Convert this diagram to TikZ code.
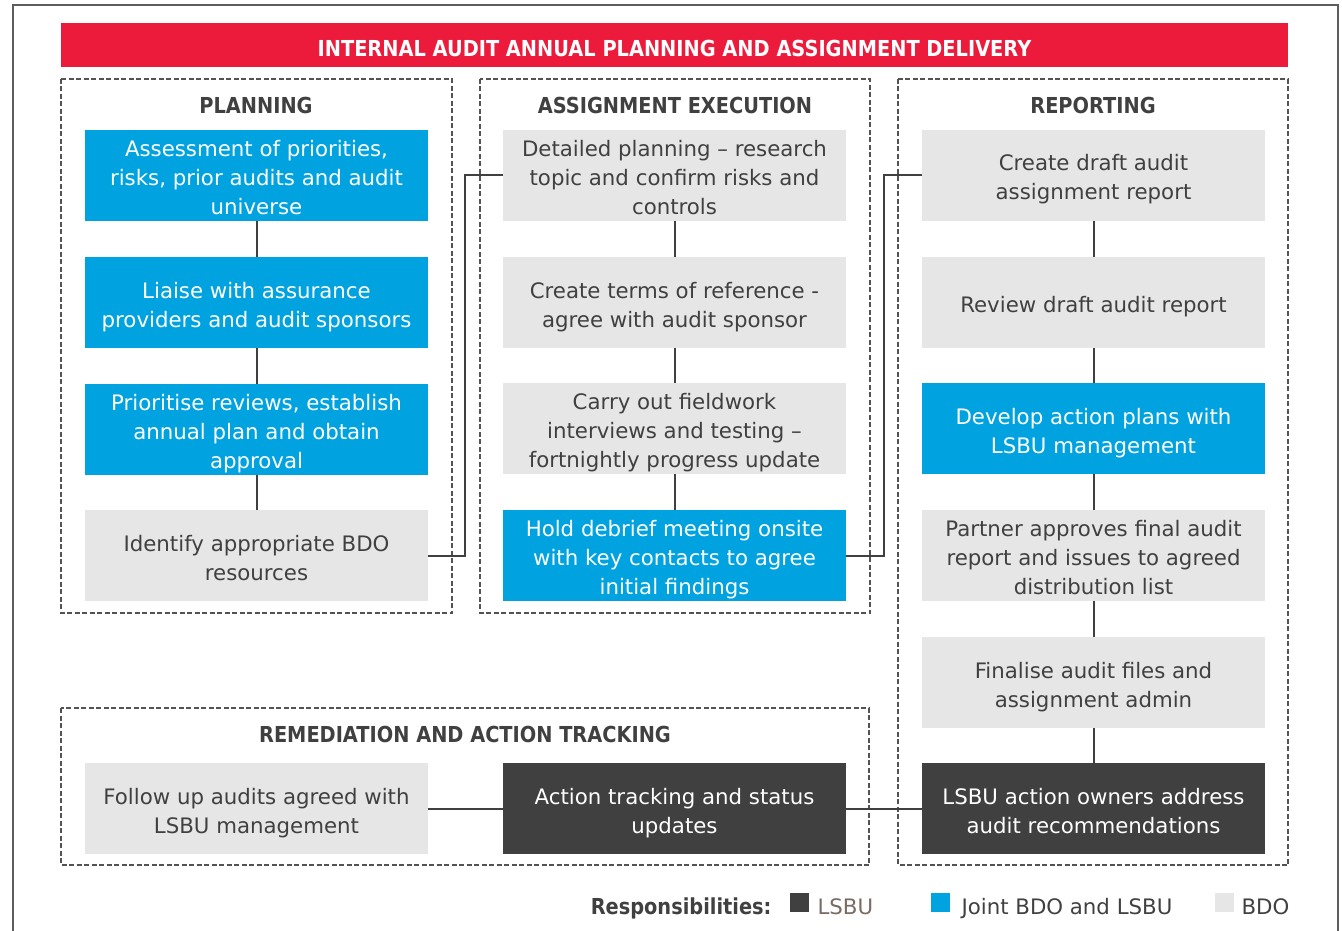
\documentclass[tikz,border=0pt]{standalone}
\usepackage{fontspec}
\setmainfont{DejaVu Sans}
\newfontfamily\headfont[FakeStretch=0.88]{DejaVu Sans}
\begin{document}
\definecolor{bdored}{HTML}{ED1B3B}
\definecolor{jointblue}{HTML}{00A3E0}
\definecolor{bdogrey}{HTML}{E6E6E6}
\definecolor{lsbudark}{HTML}{404040}
\definecolor{txt}{HTML}{404040}
\definecolor{lsbutxt}{HTML}{7A6A62}
\begin{tikzpicture}[x=1pt,y=-1pt,
  box/.style={minimum width=343pt,minimum height=91pt,inner sep=0pt,align=center,
    font=\fontsize{21.3}{29}\selectfont,text depth=0pt},
  % the text box is measured from its last line: fix its height per number of lines
  one/.style={text height=20pt},
  two/.style={text height=49pt},
  three/.style={text height=78pt},
  bdo/.style={box,fill=bdogrey,text=txt},
  joint/.style={box,fill=jointblue,text=white},
  lsbu/.style={box,fill=lsbudark,text=white},
  phase/.style={draw=txt!90,line width=1.6pt,dash pattern=on 5pt off 2.5pt},
  head/.style={anchor=base,font=\fontsize{22}{26}\headfont\bfseries,text=txt},
  link/.style={draw=lsbudark,line width=2pt},
  key/.style={minimum size=19pt,inner sep=0pt},
  legend/.style={anchor=base west,font=\fontsize{21.3}{26}\selectfont,text=txt}]
\useasboundingbox (0,0) rectangle (1342,931);
% outer frame
\draw[draw=txt!85,line width=2pt] (12.5,960) -- (12.5,5.5) -- (1337.5,5.5) -- (1337.5,960);
% title banner
\node[fill=bdored,minimum width=1227pt,minimum height=44pt,inner sep=0pt] (title) at (674.5,45) {};
\node[anchor=base,text=white,font=\fontsize{22}{26}\headfont\bfseries] (titletext) at (674.5,56.7)
  {INTERNAL AUDIT ANNUAL PLANNING AND ASSIGNMENT DELIVERY};
% phase frames
\draw[phase] (61,79) rectangle (452,613);
\draw[phase] (480,79) rectangle (870,613);
\draw[phase] (898,79) rectangle (1288,865);
\draw[phase] (61,708) rectangle (869,865);
\node[head] (hplan) at (256,113.5) {PLANNING};
\node[head] (hexec) at (675,113.5) {ASSIGNMENT EXECUTION};
\node[head] (hrep) at (1093,113.5) {REPORTING};
\node[head] (hrem) at (465,742.5) {REMEDIATION AND ACTION TRACKING};
% planning
\node[joint,three] (p1) at (256.5,175.5) {Assessment of priorities,\\risks, prior audits and audit\\universe};
\node[joint,two] (p2) at (256.5,302.5) {Liaise with assurance\\providers and audit sponsors};
\node[joint,three] (p3) at (256.5,429.5) {Prioritise reviews, establish\\annual plan and obtain\\approval};
\node[bdo,two] (p4) at (256.5,555.5) {Identify appropriate BDO\\resources};
% assignment execution
\node[bdo,three] (e1) at (674.5,175.5) {Detailed planning -- research\\topic and confirm risks and\\controls};
\node[bdo,two] (e2) at (674.5,302.5) {Create terms of reference -\\agree with audit sponsor};
\node[bdo,three] (e3) at (674.5,428.5) {Carry out fieldwork\\interviews and testing --\\fortnightly progress update};
\node[joint,three] (e4) at (674.5,555.5) {Hold debrief meeting onsite\\with key contacts to agree\\initial findings};
% reporting
\node[bdo,two] (r1) at (1093.5,175.5) {Create draft audit\\assignment report};
\node[bdo,one] (r2) at (1093.5,302.5) {Review draft audit report};
\node[joint,two] (r3) at (1093.5,428.5) {Develop action plans with\\LSBU management};
\node[bdo,three] (r4) at (1093.5,555.5) {Partner approves final audit\\report and issues to agreed\\distribution list};
\node[bdo,two] (r5) at (1093.5,682.5) {Finalise audit files and\\assignment admin};
\node[lsbu,two] (r6) at (1093.5,808.5) {LSBU action owners address\\audit recommendations};
% remediation
\node[bdo,two] (m1) at (256.5,808.5) {Follow up audits agreed with\\LSBU management};
\node[lsbu,two] (m2) at (674.5,808.5) {Action tracking and status\\updates};
% connectors within columns
\draw[link] (p1) -- (p2); \draw[link] (p2) -- (p3); \draw[link] (p3) -- (p4);
\draw[link] (e1) -- (e2); \draw[link] (e2) -- (e3); \draw[link] (e3) -- (e4);
\draw[link] (r1) -- (r2); \draw[link] (r2) -- (r3); \draw[link] (r3) -- (r4);
\draw[link] (r4) -- (r5); \draw[link] (r5) -- (r6);
% connectors between columns
\draw[link] (p4.east) -- (465,555.5) |- (e1.west);
\draw[link] (e4.east) -- (883.5,555.5) |- (r1.west);
\draw[link] (m1) -- (m2); \draw[link] (m2) -- (r6);
% legend
\node[anchor=base east,font=\fontsize{22}{26}\headfont\bfseries,text=txt] (lgd) at (775,914) {Responsibilities:};
\node[key,fill=lsbudark] (k1) at (799,902.5) {};
\node[legend,text=lsbutxt] (l1) at (814,914) {LSBU};
\node[key,fill=jointblue] (k2) at (940,902.5) {};
\node[legend] (l2) at (958,914) {Joint BDO and LSBU};
\node[key,fill=bdogrey] (k3) at (1224,902.5) {};
\node[legend] (l3) at (1238,914) {BDO};
\end{tikzpicture}
\end{document}
